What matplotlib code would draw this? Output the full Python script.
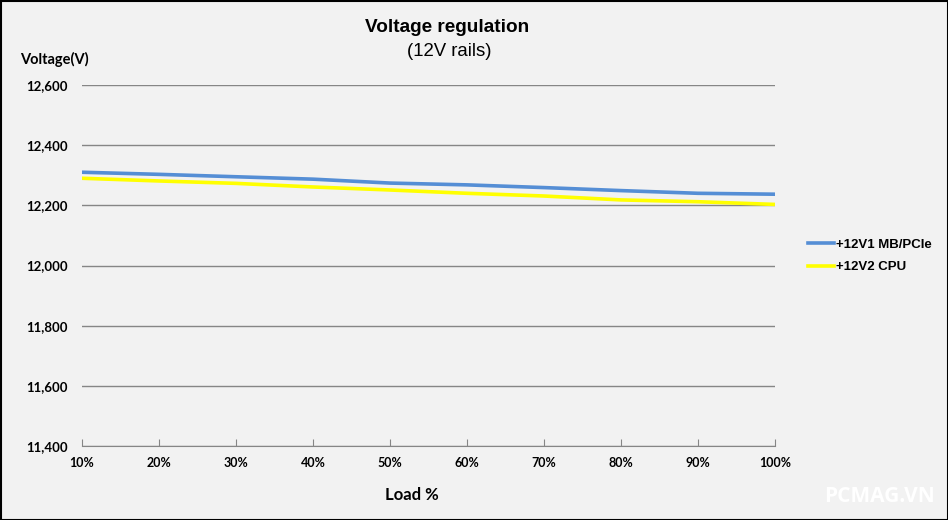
import numpy as np
import matplotlib.pyplot as plt
from matplotlib.patches import Rectangle

loads = ['10%', '20%', '30%', '40%', '50%', '60%', '70%', '80%', '90%', '100%']
rail_12v1 = [12310, 12303, 12295, 12287, 12274, 12268, 12259, 12249, 12240, 12237]
rail_12v2 = [12290, 12281, 12273, 12261, 12251, 12240, 12231, 12218, 12212, 12203]
yticks = [11400, 11600, 11800, 12000, 12200, 12400, 12600]

bg = '#f2f2f2'
plt.rcParams['font.family'] = ['Liberation Sans', 'DejaVu Sans']

fig = plt.figure(figsize=(9.48, 5.2), dpi=100, facecolor=bg)
ax = fig.add_axes([82/948, 74/520, (775-82)/948, (446-85)/520])
ax.set_facecolor(bg)

x = np.arange(len(loads))
ax.plot(x, rail_12v1, color='#558ed5', lw=2.6, label='+12V1 MB/PCIe')
ax.plot(x, rail_12v2, color='#ffff00', lw=2.6, label='+12V2 CPU')

ax.set_xlim(0, len(loads) - 1)
ax.set_ylim(11400, 12600)
ax.set_yticks(yticks)
ax.set_yticklabels(['{:,}'.format(v) for v in yticks], fontfamily='Lato',
                   fontweight='bold', fontsize=9.5)
ax.set_xticks(x)
ax.set_xticklabels(loads, fontfamily='Lato', fontweight='bold', fontsize=9)
ax.grid(axis='y', color='#868686', lw=1)
ax.set_axisbelow(True)
for s in ['top', 'right', 'left']:
    ax.spines[s].set_visible(False)
ax.spines['bottom'].set_color('#868686')
ax.tick_params(axis='y', length=0, pad=10)
ax.tick_params(axis='x', direction='in', length=5, color='#868686', pad=8)

fig.text(447/948, 1 - 28/520, 'Voltage regulation', ha='center', va='center',
         fontsize=13.7, fontweight='bold')
fig.text(449/948, 1 - 51/520, '(12V rails)', ha='center', va='center', fontsize=13.4)
fig.text(20/948, 1 - 59/520, 'Voltage(V)', ha='left', va='center',
         fontfamily='Lato', fontweight='bold', fontsize=10.5)
fig.text(412/948, 1 - 495/520, 'Load %', ha='center', va='center',
         fontfamily='Lato', fontweight='bold', fontsize=12)

leg = fig.legend(loc='center left', bbox_to_anchor=(796/948, 1 - 256/520),
                 frameon=False, handlelength=2.0, handletextpad=0.1,
                 labelspacing=0.75, prop={'size': 9.5, 'weight': 'bold'})

fig.text(935/948, 1 - 497/520, 'PCMAG.VN', ha='right', va='center',
         fontsize=15, fontweight='bold', color='white', fontfamily='Open Sans')

fig.patches.append(Rectangle((0.5/948, 0.5/520), 1 - 1/948, 1 - 1/520,
                             transform=fig.transFigure, fill=False,
                             edgecolor='black', lw=1.5))

fig.savefig('out.png', dpi=100, facecolor=bg)
